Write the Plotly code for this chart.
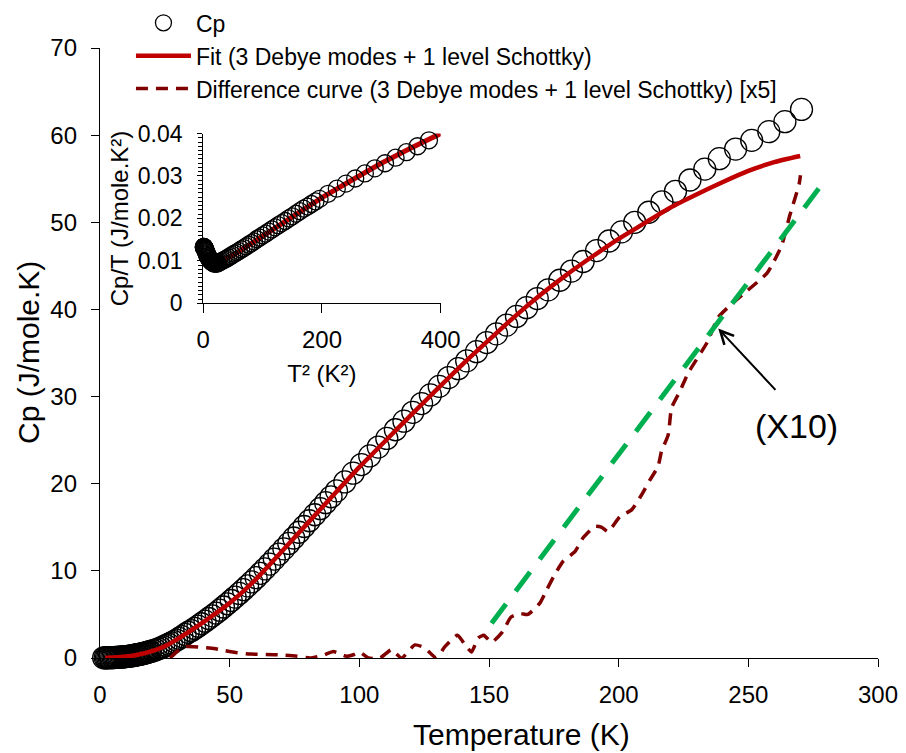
import plotly.graph_objects as go

FONT = "Liberation Sans, Arial, sans-serif"

# ---- main data: Cp vs T ----
T = [1.4, 2.0, 2.5, 3.0, 3.5, 4.0, 4.5, 5.0, 5.5, 6.0, 6.5, 7.0, 7.5, 8.0,
     8.5, 9.0, 9.5, 10.0, 10.5, 11.0, 11.5, 12.0, 12.5, 13.0, 13.5, 14.0,
     14.5, 15.0, 15.5, 16.0, 16.5, 17.0, 17.5, 18.0, 18.5, 19.0, 19.5,
     20.5, 21.5, 22.5, 23.5, 24.5, 25.5, 26.5, 27.5, 28.5, 29.5,
     30.5, 31.6, 32.8, 34.0, 35.2, 36.5,
     37.8, 39.1, 40.5, 41.9, 43.3, 44.7, 46.1, 47.6, 49.1, 50.6, 52.1, 53.7,
     55.3, 56.9, 58.5, 60.2, 61.9, 63.6, 65.4, 67.2, 69.0, 70.9, 72.8, 74.7,
     76.7, 78.7, 80.7, 82.8, 84.9, 87.0, 89.1, 91.2, 94.4, 97.6, 100.8, 104.0,
     107.3, 110.6, 113.9, 117.2, 120.6, 124.0, 127.4, 130.8, 134.4, 138.1,
     141.4, 145.2, 149.1, 152.9, 156.8, 160.6, 164.5, 168.6, 172.8, 177.3,
     181.8, 186.3, 191.5, 196.3, 201.1, 206.2, 211.6, 216.7, 221.9, 227.5,
     233.2, 238.8, 245.1, 251.3, 257.9, 264.1, 270.5]
Cp = [0.018, 0.025, 0.029, 0.032, 0.035, 0.039, 0.043, 0.048, 0.054, 0.062,
      0.070, 0.080, 0.090, 0.102, 0.114, 0.128, 0.143, 0.160, 0.177, 0.197,
      0.217, 0.240, 0.264, 0.290, 0.316, 0.344, 0.374, 0.405, 0.437, 0.470,
      0.505, 0.541, 0.578, 0.617, 0.659, 0.703, 0.749,
      0.84, 0.94, 1.05, 1.17, 1.30, 1.44, 1.58, 1.73, 1.89, 2.06,
      2.25, 2.46, 2.70, 2.94, 3.13, 3.39,
      3.65, 3.93, 4.23, 4.53, 4.84, 5.16, 5.49, 5.85, 6.22, 6.60, 6.99, 7.41,
      7.84, 8.28, 8.73, 9.22, 9.72, 10.23, 10.78, 11.35, 11.93, 12.53, 13.15,
      13.77, 14.43, 15.09, 15.75, 16.44, 17.13, 17.82, 18.50, 19.18, 20.20,
      21.21, 22.20, 23.19, 24.20, 25.20, 26.19, 27.18, 28.19, 29.20, 30.19,
      31.17, 32.18, 33.20, 34.10, 35.15, 36.20, 37.20, 38.20, 39.20, 40.20,
      41.25, 42.25, 43.35, 44.40, 45.50, 46.75, 47.85, 48.90, 50.00, 51.15,
      52.35, 53.55, 54.85, 56.10, 57.30, 58.40, 59.40, 60.40, 61.55, 62.95]

# ---- fit curve ----
T_fit = [2, 5, 10, 15, 20, 25, 30, 40, 50, 60, 70, 80, 90, 100, 110, 120, 130,
         140, 150, 160, 170, 180, 190, 200, 210, 220, 230, 240, 250, 260, 270]
Cp_fit = [0.03, 0.05, 0.16, 0.40, 0.78, 1.35, 2.2, 4.15, 6.3, 9.0, 12.2, 15.45,
          18.7, 21.9, 24.9, 27.9, 30.85, 33.75, 36.5, 39.2, 41.7, 44.0, 46.1,
          48.1, 49.9, 51.7, 53.2, 54.6, 55.9, 56.9, 57.6]

# ---- difference curve ----
T_diff = [27, 30, 33, 36, 40, 44, 48, 53, 58, 64, 70, 76, 81, 86, 90, 95, 98,
          100, 103.5, 108, 112.4, 116.3, 121.4, 125, 127.2, 129.8, 133, 137.8,
          141.3, 143.3, 145.8, 148, 151, 155.2, 158.5, 162, 165, 169.6, 172.2,
          175.4, 178.6, 183.1, 186.3, 190.8, 193.5, 195.9, 200.4, 205, 208.8,
          212, 215.2, 216.5, 219.1, 220.4, 223.6, 226.8, 234.1, 238.4, 243.5,
          248.6, 257.3, 262.8, 266, 269.6, 270.1]
Cp_diff = [0.0, 0.8, 1.3, 1.3, 1.2, 1.1, 0.85, 0.6, 0.45, 0.4, 0.35, 0.2, 0.0,
           0.3, 0.75, 0.2, 0.4, 0.7, 0.0, 0.0, 0.95, 0.0, 1.5, 1.2, 0.6, 0.0,
           1.3, 2.6, 1.3, 0.7, 2.3, 2.6, 1.8, 3.0, 4.7, 5.1, 5.0, 6.3, 7.8,
           9.6, 11.1, 12.2, 13.8, 15.1, 15.0, 14.5, 16.2, 17.0, 18.7, 20.4,
           22.0, 23.7, 25.6, 28.7, 30.6, 32.7, 36.2, 39.1, 40.6, 41.9, 44.2,
           47.3, 50.8, 54.4, 55.4]

# ---- green guide line ----
T_green = [151, 280]
Cp_green = [4.0, 55.0]

# ---- inset: Cp/T vs T^2 ----
T2_ins = [0.81, 1.0, 1.21, 1.44, 1.69, 1.96, 2.25, 2.56, 2.89, 3.24, 3.61,
          4.0, 4.41, 4.84, 5.29, 5.76, 6.25, 6.76, 7.29, 7.84, 8.41, 9.0,
          9.61, 10.24, 10.89, 11.56, 12.25, 12.96, 13.69, 14.44, 15.21, 16.0,
          16.81, 17.64, 18.49, 19.36, 20.25, 21.16, 22.09, 23.04, 24.01, 25.0,
          27.56, 30.25, 33.06, 36.0, 39.06, 42.25, 45.56, 49.0, 52.56, 56.25,
          60.06, 64.0, 68.06, 72.25, 76.56, 81.0, 85.56, 90.25, 95.06, 100.0,
          105.06, 110.25, 115.56, 121.0, 126.56, 132.25, 138.06, 144.0, 150.06,
          156.25, 162.56, 169.0, 175.56, 182.25, 189.06, 196.0, 210.25, 225.0,
          240.25, 256.0, 272.25, 289.0, 306.25, 324.0, 342.25, 361.0, 380.25]
CpT_ins = [0.0133, 0.0133, 0.0133, 0.0132, 0.0131, 0.0131, 0.0130, 0.0129,
           0.0128, 0.0127, 0.0126, 0.0124, 0.0123, 0.0121, 0.0120, 0.0118,
           0.0116, 0.0114, 0.0112, 0.0111, 0.0110, 0.0108, 0.0106, 0.0105,
           0.0104, 0.0102, 0.0101, 0.0100, 0.0099, 0.0098, 0.0097, 0.0096,
           0.0095, 0.0095, 0.0094, 0.0094, 0.0094, 0.0094, 0.0094, 0.0094,
           0.0095, 0.0095, 0.0097, 0.0099, 0.0101, 0.0103, 0.0105, 0.0108,
           0.0111, 0.0114, 0.0117, 0.0120, 0.0123, 0.0127, 0.0130, 0.0134,
           0.0138, 0.0142, 0.0146, 0.0151, 0.0155, 0.0160, 0.0164, 0.0169,
           0.0174, 0.0179, 0.0184, 0.0189, 0.0194, 0.0200, 0.0205, 0.0211,
           0.0217, 0.0223, 0.0228, 0.0234, 0.0240, 0.0246, 0.0258, 0.0270,
           0.0282, 0.0294, 0.0306, 0.0318, 0.0330, 0.0343, 0.0356, 0.0370,
           0.0384]
T2_fit = [16, 30, 50, 75, 100, 150, 200, 250, 300, 350, 400]
CpT_fit = [0.0096, 0.0100, 0.0113, 0.0136, 0.0159, 0.0205, 0.0249, 0.0290,
           0.0330, 0.0366, 0.0400]

fig = go.Figure()

fig.add_trace(go.Scatter(
    x=T, y=Cp, mode="markers", name="Cp", cliponaxis=False,
    marker=dict(symbol="circle-open", size=22, color="black",
                line=dict(color="black", width=1.3))))
fig.add_trace(go.Scatter(
    x=T_fit, y=Cp_fit, mode="lines", name="Fit (3 Debye modes + 1 level Schottky)",
    line=dict(color="#C00000", width=4.5, shape="spline", smoothing=0.6)))
fig.add_trace(go.Scatter(
    x=T_diff, y=Cp_diff, mode="lines",
    name="Difference curve (3 Debye modes + 1 level Schottky) [x5]",
    line=dict(color="#800000", width=3.5, dash="12px,8px", shape="spline",
              smoothing=0.5)))
fig.add_trace(go.Scatter(
    x=T_green, y=Cp_green, mode="lines", showlegend=False,
    line=dict(color="#00B050", width=5, dash="24px,16px")))

# inset traces
fig.add_trace(go.Scatter(
    x=T2_fit, y=CpT_fit, mode="lines", xaxis="x2", yaxis="y2", showlegend=False,
    line=dict(color="#C00000", width=5)))
fig.add_trace(go.Scatter(
    x=T2_ins, y=CpT_ins, mode="markers", xaxis="x2", yaxis="y2",
    showlegend=False, cliponaxis=False,
    marker=dict(symbol="circle-open", size=17, color="black",
                line=dict(color="black", width=1.3))))

axis_common = dict(showline=True, linecolor="black", linewidth=1.3,
                   ticks="outside", tickcolor="black", tickwidth=1.3,
                   showgrid=False, zeroline=False, automargin=False)

fig.update_layout(
    width=906, height=753,
    margin=dict(l=100, r=27.7, t=47.7, b=94.7, pad=0, autoexpand=False),
    paper_bgcolor="white", plot_bgcolor="white",
    font=dict(family=FONT, color="black"),
    xaxis=dict(range=[0, 300], tickvals=[0, 50, 100, 150, 200, 250, 300],
               ticklen=8, ticklabelstandoff=7,
               tickfont=dict(size=24, family=FONT), **axis_common),
    yaxis=dict(range=[0, 70], tickvals=[0, 10, 20, 30, 40, 50, 60, 70],
               ticklen=8, ticklabelstandoff=9,
               tickfont=dict(size=24, family=FONT), **axis_common),
    xaxis2=dict(domain=[0.1327, 0.4379], range=[0, 400], anchor="y2",
                tickvals=[0, 200, 400], ticklen=9, ticklabelstandoff=6,
                tickfont=dict(size=24, family=FONT),
                title=dict(text="T² (K²)", font=dict(size=24, family=FONT),
                           standoff=12),
                **axis_common),
    yaxis2=dict(domain=[0.5814, 0.8598], range=[0, 0.04], anchor="x2",
                tickvals=[0, 0.01, 0.02, 0.03, 0.04],
                ticktext=["0", "0.01", "0.02", "0.03", "0.04"],
                ticklen=5, ticklabelstandoff=10,
                minor=dict(dtick=0.001, ticklen=4, ticks="outside",
                           tickcolor="black", tickwidth=1),
                tickfont=dict(size=23, family=FONT),
                title=dict(text="Cp/T (J/mole.K²)", font=dict(size=24, family=FONT),
                           standoff=2),
                **axis_common),
    legend=dict(x=0.0398, y=1.0765, xanchor="left", yanchor="top",
                bgcolor="rgba(0,0,0,0)", font=dict(size=23, family=FONT),
                itemwidth=55, tracegroupgap=0),
    annotations=[
        dict(text="Temperature (K)", xref="paper", yref="paper",
             x=0.542, y=-0.1256, xanchor="center", yanchor="middle",
             showarrow=False, font=dict(size=30, family=FONT)),
        dict(text="Cp (J/mole.K)", xref="paper", yref="paper",
             x=-0.0925, y=0.5, xanchor="center", yanchor="middle",
             textangle=-90, showarrow=False, font=dict(size=30, family=FONT)),
        dict(text="(X10)", xref="x", yref="y", x=268.6, y=26.6,
             xanchor="center", yanchor="middle", showarrow=False,
             font=dict(size=34, family=FONT)),
        dict(text="", xref="x", yref="y", x=238.4, y=37.8,
             axref="x", ayref="y", ax=261.0, ay=30.6, showarrow=True,
             arrowhead=5, arrowsize=1.3, arrowwidth=2, arrowcolor="black"),
    ],
)

fig.write_html("out.html",
               config={"displayModeBar": False},
               post_script="document.body.style.margin='0';"
                           "document.body.style.padding='0';")
